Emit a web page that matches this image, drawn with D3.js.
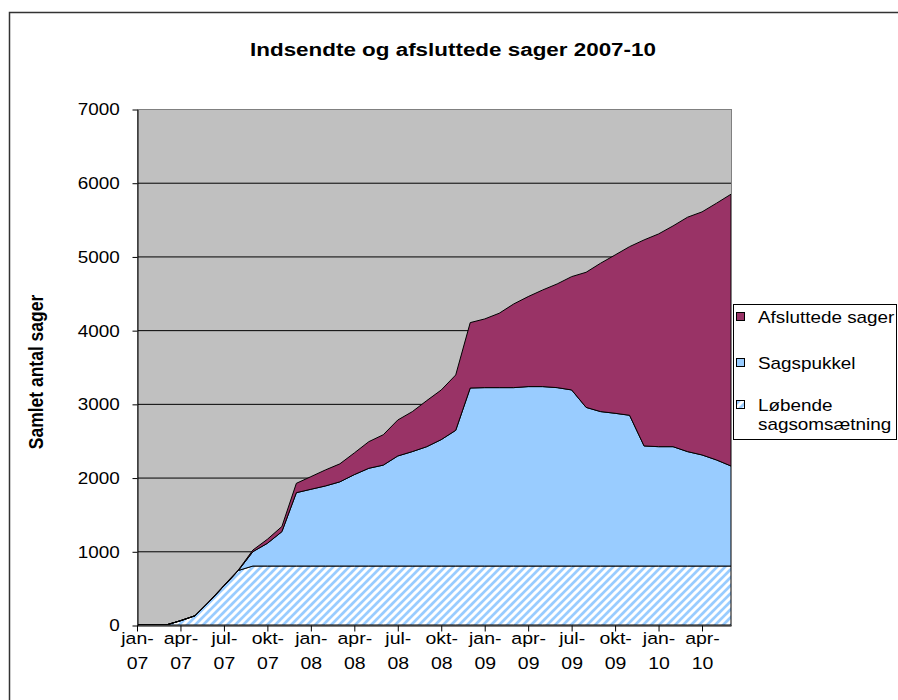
<!DOCTYPE html>
<html>
<head>
<meta charset="utf-8">
<script src="https://cdn.jsdelivr.net/npm/d3@7/dist/d3.min.js"></script>
<style>
  body { margin: 0; background: #fff; }
  svg { display: block; font-family: Arial, "Liberation Sans", sans-serif; }
</style>
</head>
<body>
<svg id="chart" width="898" height="700"></svg>
<script>
// categories: one point per month, jan-07 .. jun-10
const months = [
  'jan-07','feb-07','mar-07','apr-07','maj-07','jun-07','jul-07','aug-07','sep-07','okt-07','nov-07','dec-07',
  'jan-08','feb-08','mar-08','apr-08','maj-08','jun-08','jul-08','aug-08','sep-08','okt-08','nov-08','dec-08',
  'jan-09','feb-09','mar-09','apr-09','maj-09','jun-09','jul-09','aug-09','sep-09','okt-09','nov-09','dec-09',
  'jan-10','feb-10','mar-10','apr-10','maj-10','jun-10'
];

// series (stacked from the bottom up)
const lobende = [0, 0, 0, 58, 125, 320, 530, 740,
  800, 800, 800, 800, 800, 800, 800, 800, 800, 800, 800, 800, 800, 800, 800, 800,
  800, 800, 800, 800, 800, 800, 800, 800, 800, 800, 800, 800, 800, 800, 800, 800, 800, 800];
const sagspukkel = [0, 0, 0, 0, 0, 0, 0, 0,
  195, 308, 466, 995, 1041, 1086, 1142, 1240, 1326, 1369, 1493, 1552, 1619, 1715, 1841, 2415,
  2420, 2420, 2420, 2434, 2434, 2420, 2389, 2152, 2095, 2072, 2045, 1629, 1619, 1619, 1552, 1507, 1439, 1357];
const afsluttede = [0, 0, 0, 0, 0, 4, 8, 8,
  22, 55, 70, 127, 171, 217, 244, 294, 361, 412, 488, 542, 625, 673, 751, 887,
  932, 1009, 1135, 1221, 1311, 1407, 1537, 1833, 2013, 2148, 2288, 2795, 2886, 2995, 3180, 3297, 3483, 3687];

const seriesKeys = ['lobende', 'sagspukkel', 'afsluttede'];
const legendLabels = [
  ['afsluttede', ['Afsluttede sager']],
  ['sagspukkel', ['Sagspukkel']],
  ['lobende', ['Løbende', 'sagsomsætning']]
];
const yTicks = [0, 1000, 2000, 3000, 4000, 5000, 6000, 7000];
const title = 'Indsendte og afsluttede sager 2007-10';
const yTitle = 'Samlet antal sager';

// the source picture is stretched sideways, so text gets the same stretch
const sx = 1.18;

const table = months.map((m, i) => ({
  month: m,
  lobende: lobende[i],
  sagspukkel: sagspukkel[i],
  afsluttede: afsluttede[i]
}));

const svg = d3.select('#chart');
const plot = { left: 137, right: 731, top: 109, bottom: 625 };

const x = d3.scalePoint().domain(months).range([plot.left, plot.right]);
const y = d3.scaleLinear().domain([0, 7000]).range([plot.bottom, plot.top]);

// hatch for "Løbende sagsomsætning"
const defs = svg.append('defs');
const pat = defs.append('pattern')
  .attr('id', 'hatch')
  .attr('patternUnits', 'userSpaceOnUse')
  .attr('width', 8).attr('height', 8);
pat.append('rect').attr('width', 8).attr('height', 8).attr('fill', '#99CCFF');
pat.append('path')
  .attr('d', 'M-2,2 L2,-2 M0,8 L8,0 M6,10 L10,6')
  .attr('stroke', '#fff').attr('stroke-width', 3);

const fills = { lobende: 'url(#hatch)', sagspukkel: '#99CCFF', afsluttede: '#993366' };

// outer chart frame
svg.append('rect')
  .attr('x', 9.5).attr('y', 12.5)
  .attr('width', 1000).attr('height', 1000)
  .attr('fill', '#fff').attr('stroke', '#333').attr('stroke-width', 1.5);

// plot background
svg.append('rect')
  .attr('x', plot.left).attr('y', plot.top)
  .attr('width', plot.right - plot.left).attr('height', plot.bottom - plot.top)
  .attr('fill', '#C0C0C0');

// gridlines
svg.append('g')
  .selectAll('line')
  .data(yTicks.filter(d => d > 0 && d < 7000))
  .enter().append('line')
  .attr('x1', plot.left).attr('x2', plot.right)
  .attr('y1', d => y(d) + 0.5).attr('y2', d => y(d) + 0.5)
  .attr('stroke', '#000');

// stacked areas
const stacked = d3.stack().keys(seriesKeys)(table);
const area = d3.area()
  .x(d => x(d.data.month))
  .y0(d => y(d[0]))
  .y1(d => y(d[1]));

svg.append('g')
  .selectAll('path')
  .data(stacked)
  .enter().append('path')
  .attr('d', area)
  .attr('fill', d => fills[d.key])
  .attr('stroke', '#000')
  .attr('stroke-width', 1)
  .attr('stroke-linejoin', 'round');

// plot border (grey)
svg.append('rect')
  .attr('x', plot.left + 0.5).attr('y', plot.top + 0.5)
  .attr('width', plot.right - plot.left).attr('height', plot.bottom - plot.top)
  .attr('fill', 'none').attr('stroke', '#808080');

// y axis
const yAxis = svg.append('g')
  .attr('transform', `translate(${plot.left + 0.5},0.5)`)
  .call(d3.axisLeft(y).tickValues(yTicks).tickFormat(d3.format('d'))
    .tickSize(5).tickSizeOuter(0).tickPadding(10));
yAxis.select('.domain').attr('stroke', '#000');
yAxis.selectAll('.tick line').attr('stroke', '#000');
yAxis.selectAll('.tick text')
  .attr('font-size', 16)
  .attr('fill', '#000')
  .attr('dy', '0.34em')
  .attr('transform', `scale(${sx},1)`);

// x axis, labels every third month on two lines
const xAxis = svg.append('g')
  .attr('transform', `translate(0,${plot.bottom + 0.5})`)
  .call(d3.axisBottom(x)
    .tickValues(months.filter((m, i) => i % 3 === 0))
    .tickSize(6).tickSizeOuter(0));
xAxis.select('.domain').attr('stroke', '#000');
xAxis.selectAll('.tick line').attr('stroke', '#000');
xAxis.selectAll('.tick text').each(function (d) {
  const t = d3.select(this);
  const [mon, yr] = d.split('-');
  t.text(null)
    .attr('font-size', 16.5)
    .attr('fill', '#000')
    .attr('y', null).attr('dy', null)
    .attr('transform', `scale(${sx},1)`);
  t.append('tspan').attr('x', 0).attr('y', 19).text(mon + '-');
  t.append('tspan').attr('x', 0).attr('y', 44).text(yr);
});

// title
svg.append('text')
  .attr('transform', `translate(453,56) scale(${sx},1)`)
  .attr('text-anchor', 'middle')
  .attr('font-size', 19)
  .attr('font-weight', 'bold')
  .text(title);

// y axis title
svg.append('text')
  .attr('transform', `translate(43,372) scale(${sx},1) rotate(-90)`)
  .attr('text-anchor', 'middle')
  .attr('font-size', 17.5)
  .attr('font-weight', 'bold')
  .text(yTitle);

// legend
const legend = svg.append('g');
legend.append('rect')
  .attr('x', 733.5).attr('y', 304.5)
  .attr('width', 163).attr('height', 135)
  .attr('fill', '#fff').attr('stroke', '#000');

const rowY = [323, 369, 411];
legendLabels.forEach(([key, lines], i) => {
  legend.append('rect')
    .attr('x', 736.5).attr('y', rowY[i] - 10.5)
    .attr('width', 8).attr('height', 8)
    .attr('fill', fills[key]).attr('stroke', '#000');
  const t = legend.append('text')
    .attr('transform', `translate(758,${rowY[i]}) scale(${sx},1)`)
    .attr('font-size', 16);
  lines.forEach((l, j) => {
    t.append('tspan').attr('x', 0).attr('y', j * 19.5).text(l);
  });
});
</script>
</body>
</html>
